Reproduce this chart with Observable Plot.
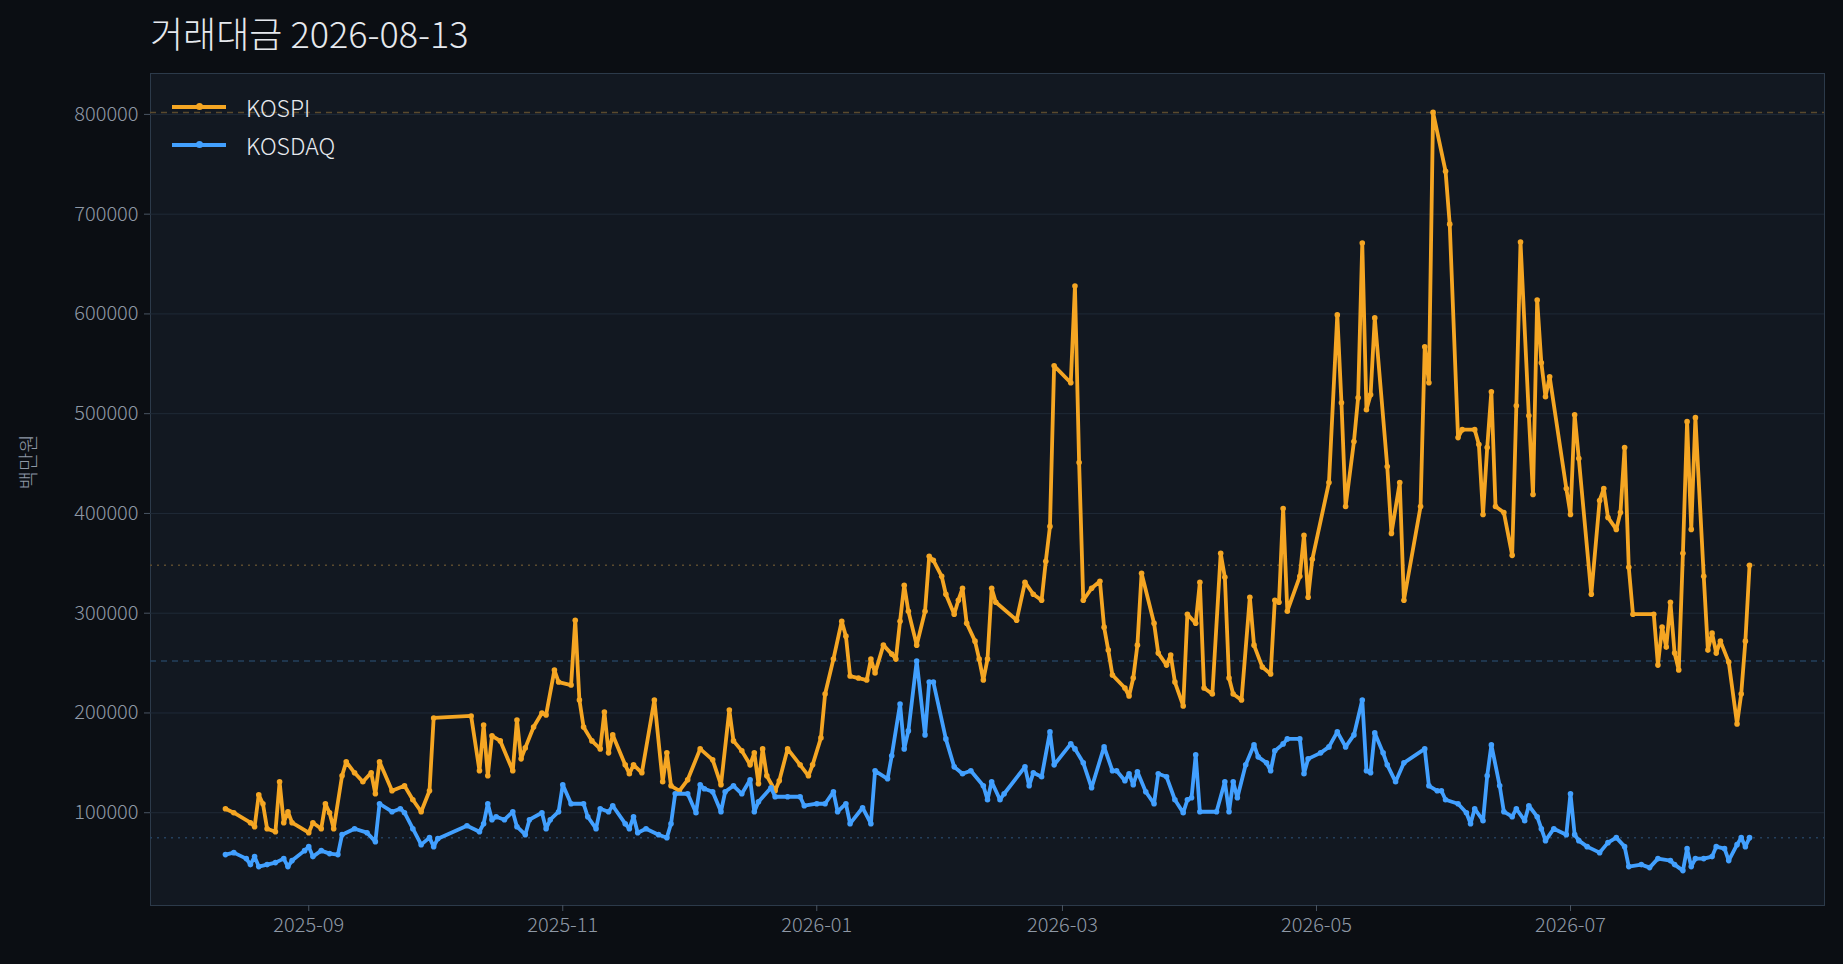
<!DOCTYPE html>
<html><head><meta charset="utf-8">
<script src="https://cdn.jsdelivr.net/npm/d3@7"></script>
<script src="https://cdn.jsdelivr.net/npm/@observablehq/plot@0.6"></script>
<style>
body{margin:0;background:#0b0e13;font-family:"Noto Sans CJK KR","Noto Sans",sans-serif;}
#wrap{position:relative;width:1843px;height:964px;}
#title{position:absolute;left:150px;top:6px;color:#e6e9ee;font-size:36px;font-weight:300;}
#chart{position:absolute;left:0;top:55px;}
.leg{position:absolute;color:#e6e9ee;font-size:23px;font-weight:300;display:flex;align-items:center;}
.leg span.l{display:inline-block;width:54px;height:4px;margin-right:20px;position:relative;}
.leg span.l i{position:absolute;left:24px;top:-2px;width:7px;height:7px;border-radius:50%;}
</style></head><body>
<div id="wrap">
<div id="title">거래대금 2026-08-13</div>
<div id="chart"></div>
<div class="leg" style="left:172px;top:90px"><span class="l" style="background:#f5a623"><i style="background:#f5a623"></i></span>KOSPI</div>
<div class="leg" style="left:172px;top:128px"><span class="l" style="background:#42a0ff"><i style="background:#42a0ff"></i></span>KOSDAQ</div>
</div>
<script>
const startDate = "2025-08-12";
const kospiDay = [0,2,6,7,8,9,10,12,13,14,15,16,20,21,23,24,25,26,28,29,31,33,35,36,37,40,43,45,47,49,50,59,61,62,63,64,66,69,70,71,72,74,76,77,79,80,83,84,85,86,88,90,91,92,93,96,97,98,100,103,105,106,107,109,111,114,117,119,121,122,124,126,127,128,129,130,132,133,135,138,140,141,143,144,146,148,149,150,152,154,155,156,158,160,161,162,163,164,166,168,169,170,172,173,175,176,177,178,180,181,182,183,184,185,190,192,194,196,197,198,199,203,204,205,206,208,210,211,212,213,216,217,218,219,220,223,224,226,227,228,230,231,233,234,235,237,239,240,241,242,244,246,247,249,251,252,253,254,255,258,259,260,261,265,267,268,269,271,272,273,274,275,276,279,280,282,283,287,288,289,290,293,294,296,297,300,301,302,303,304,305,307,309,310,311,313,314,315,316,317,318,322,323,324,325,328,330,331,332,334,335,336,337,338,343,344,345,346,347,348,349,350,351,352,353,355,356,357,358,359,361,363,364,365,366];
const kospiVal = [104,100,90,86,118,109,84,81,131,90,101,90,80,90,84,109,100,84,137,151,140,131,140,119,151,122,127,113,101,122,195,197,142,188,137,177,172,142,193,154,165,186,200,198,243,231,228,293,213,186,172,164,201,160,178,148,139,148,140,213,131,160,127,122,133,164,153,128,203,172,162,148,160,129,164,137,122,132,164,148,137,148,175,219,254,292,277,237,235,233,254,240,268,259,254,292,328,302,268,302,357,353,337,319,299,313,325,290,272,254,233,254,325,311,293,331,319,313,352,387,548,531,628,451,313,325,332,286,263,238,225,217,235,268,340,290,260,248,258,231,207,299,290,331,225,219,360,336,235,219,213,316,268,246,239,313,311,405,302,337,378,316,354,431,599,511,407,472,516,671,504,519,596,447,380,431,313,407,567,531,802,743,690,476,484,484,469,399,466,522,407,401,358,508,672,498,419,614,551,517,537,425,399,499,455,319,413,425,396,384,401,466,346,299,299,248,286,266,311,260,243,360,492,384,496,337,263,280,260,272,251,189,219,272,348];
const kosdaqDay = [0,2,5,6,7,8,10,12,14,15,16,19,20,21,23,25,27,28,31,34,36,37,40,42,43,45,47,49,50,51,58,61,62,63,64,65,67,69,70,72,73,76,77,78,80,81,83,86,87,89,90,92,93,96,97,98,99,101,104,106,107,108,111,113,114,115,117,119,120,122,124,126,127,128,131,132,135,138,139,142,144,146,147,149,150,153,155,156,159,160,162,163,164,166,168,169,170,173,175,177,179,182,183,184,186,187,192,193,194,196,198,199,203,204,206,208,211,213,214,216,217,218,219,221,223,224,226,228,230,231,232,233,234,238,240,241,242,243,245,247,248,250,251,252,254,255,258,259,260,263,265,267,269,271,273,274,275,276,278,279,281,283,288,289,291,292,293,296,298,299,300,302,303,304,306,307,309,310,312,313,315,316,317,319,322,323,324,325,327,330,332,334,336,337,340,342,344,347,348,350,351,352,353,355,357,358,360,361,363,364,365,366];
const kosdaqVal = [58,60,54,48,56,46,48,50,54,46,52,62,66,56,62,59,58,78,84,80,71,109,101,104,100,84,68,75,66,74,87,81,89,109,93,96,93,101,86,78,93,100,84,93,101,128,109,109,96,84,104,101,107,89,84,96,80,84,78,75,89,119,119,100,128,124,121,101,121,127,119,133,101,111,125,116,116,116,107,109,109,121,101,109,89,105,89,142,134,157,209,164,182,252,178,231,231,174,146,139,142,127,113,131,113,119,146,127,140,136,181,148,169,164,150,125,166,142,142,132,139,128,141,121,109,139,136,113,100,113,115,158,101,101,131,101,131,115,148,168,156,150,142,162,169,174,174,139,154,160,166,181,166,178,213,142,140,180,160,148,131,150,164,127,122,122,113,109,100,89,104,92,137,168,127,101,96,104,92,107,96,84,72,84,78,119,78,72,66,60,70,75,66,46,48,45,54,52,48,42,64,46,54,54,56,66,64,52,68,75,66,75];

const s = new Date(startDate + "T00:00:00");
const mk = (days, vals, name) => days.map((d,i)=>({date:d3.timeDay.offset(s,d), value:vals[i]*1000, series:name}));
const kospi = mk(kospiDay,kospiVal,"KOSPI");
const kosdaq = mk(kosdaqDay,kosdaqVal,"KOSDAQ");
const O="#f5a623", B="#42a0ff";
const refs = [
  {v:d3.max(kospi,d=>d.value), c:"#5a4a2e", dash:"6,5"},
  {v:kospi[kospi.length-1].value, c:"#5a4a2e", dash:"2,5"},
  {v:d3.max(kosdaq,d=>d.value), c:"#24405e", dash:"6,5"},
  {v:kosdaq[kosdaq.length-1].value, c:"#24405e", dash:"2,5"}
];
const chart = Plot.plot({
  width:1843, height:909,
  marginLeft:150, marginRight:19, marginTop:18, marginBottom:59,
  style:{background:"transparent", color:"#8e98a5", fontSize:"20px", fontFamily:"'Noto Sans CJK KR','Noto Sans',sans-serif", fontWeight:300},
  x:{type:"time", domain:[new Date("2025-07-25"), new Date("2026-08-31")], label:null},
  y:{domain:[7000,841000], label:null},
  marks:[
    Plot.frame({fill:"#121821", stroke:"#2c3a4a"}),
    Plot.gridY(d3.range(100000,800001,100000), {stroke:"#1f2a37", strokeOpacity:1}),
    ...refs.map(r=>Plot.ruleY([r.v],{stroke:r.c, strokeDasharray:r.dash, strokeWidth:1.5})),
    Plot.axisX({ticks:d3.timeMonth.every(2), tickFormat:d3.timeFormat("%Y-%m"), stroke:"#4a5563", tickSize:6, tickPadding:6, label:null}),
    Plot.axisY({ticks:d3.range(100000,800001,100000), tickFormat:d=>String(d), stroke:"#4a5563", tickSize:6, tickPadding:6, label:null}),
    Plot.text(["백만원"],{frameAnchor:"left", dx:-121, rotate:-90, fontSize:20, fill:"#8e98a5"}),
    Plot.line(kospi,{x:"date",y:"value",stroke:O,strokeWidth:3.8}),
    Plot.dot(kospi,{x:"date",y:"value",fill:O,r:2.8}),
    Plot.line(kosdaq,{x:"date",y:"value",stroke:B,strokeWidth:3.8}),
    Plot.dot(kosdaq,{x:"date",y:"value",fill:B,r:2.8})
  ]
});
document.getElementById("chart").appendChild(chart);
</script>
</body></html>
